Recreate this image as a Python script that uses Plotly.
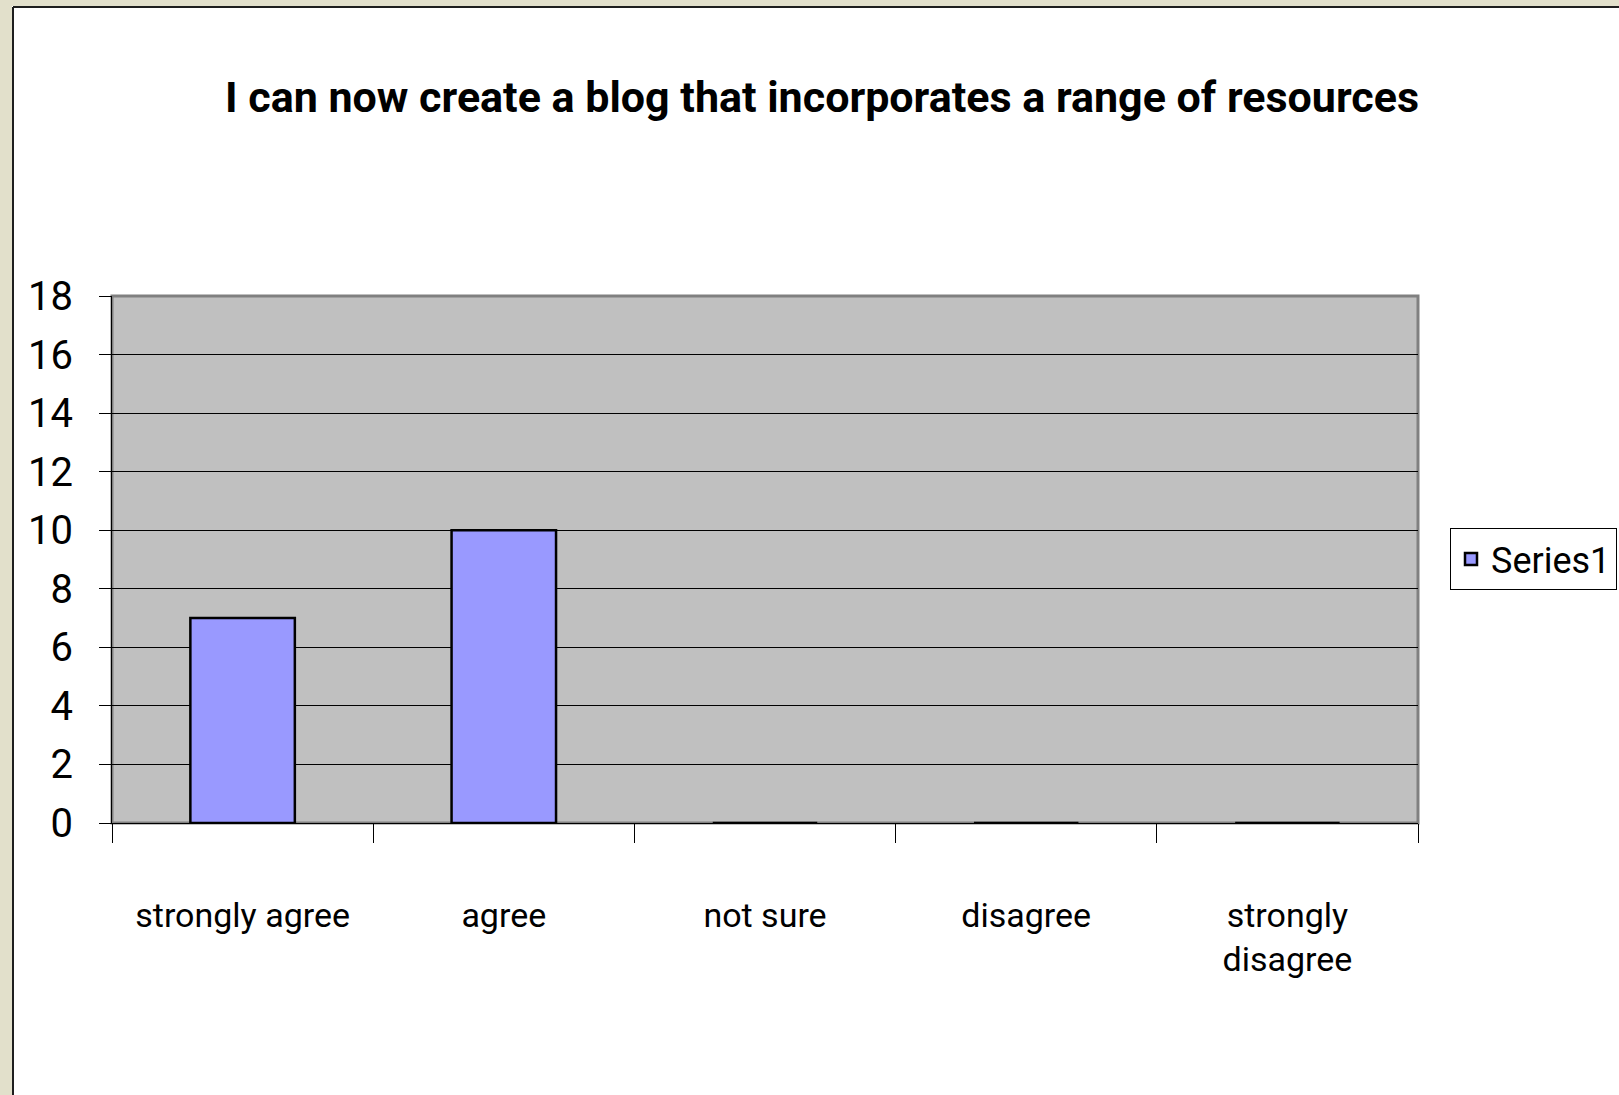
import plotly.graph_objects as go

categories = ["strongly agree", "agree", "not sure", "disagree", "strongly<br>disagree"]
values = [7, 10, 0, 0, 0]
series_name = "Series1"
title_text = "I can now create a blog that incorporates a range of resources"
y_ticks = [0, 2, 4, 6, 8, 10, 12, 14, 16, 18]

W, H = 1619, 1095
L, R, T, B = 112, 1418, 296, 823

def px_x(p):
    return (p - L) / (R - L)

def px_y(p):
    return (B - p) / (B - T)

FONT = "Liberation Sans Narrow, Roboto, Liberation Sans, sans-serif"

fig = go.Figure()
fig.add_trace(go.Bar(
    x=categories, y=values, name=series_name,
    marker=dict(color="#9999FF", line=dict(color="black", width=2.5)),
    showlegend=True,
))

shapes = [
    dict(type="rect", xref="paper", yref="paper", x0=px_x(0), x1=px_x(12), y0=px_y(H), y1=px_y(0),
         fillcolor="#E2E0CB", line=dict(width=0), layer="above"),
    dict(type="rect", xref="paper", yref="paper", x0=px_x(0), x1=px_x(W), y0=px_y(6), y1=px_y(0),
         fillcolor="#E2E0CB", line=dict(width=0), layer="above"),
    dict(type="line", xref="paper", yref="paper", x0=px_x(13), x1=px_x(13), y0=px_y(H), y1=px_y(7),
         line=dict(color="#1E1E1E", width=2), layer="above"),
    dict(type="line", xref="paper", yref="paper", x0=px_x(13), x1=px_x(W), y0=px_y(7), y1=px_y(7),
         line=dict(color="#1E1E1E", width=2), layer="above"),
    dict(type="rect", xref="paper", yref="paper", x0=0, x1=1, y0=0, y1=1,
         line=dict(color="#808080", width=3), layer="below"),
]

fig.update_layout(
    width=W, height=H,
    margin=dict(l=L, r=W - R, t=T, b=H - B, pad=0, autoexpand=False),
    paper_bgcolor="white",
    plot_bgcolor="#C0C0C0",
    bargap=0.6,
    title=dict(text="<b>" + title_text + "</b>", x=822 / W, xanchor="center",
               y=1 - 97 / H, yanchor="middle", xref="container", yref="container",
               font=dict(family=FONT, size=43, color="black")),
    font=dict(family=FONT, color="black"),
    legend=dict(x=px_x(1450), xanchor="left", y=px_y(559), yanchor="middle",
                bgcolor="white", bordercolor="black", borderwidth=1,
                itemwidth=30, tracegroupgap=0,
                font=dict(family=FONT, size=36, color="black")),
    shapes=shapes,
)

fig.update_xaxes(
    type="category", tickson="boundaries", ticks="outside", ticklen=19,
    tickcolor="black", tickwidth=1, showgrid=False, tickangle=0,
    showline=True, linecolor="black", linewidth=1,
    tickfont=dict(family=FONT, size=34, color="black"),
    ticklabelstandoff=62, range=[-0.5, 4.5],
)
fig.update_yaxes(
    range=[0, 18], tickvals=y_ticks, ticks="outside", ticklen=12,
    tickcolor="black", tickwidth=1, showgrid=True, gridcolor="black", gridwidth=1,
    showline=True, linecolor="black", linewidth=1, zeroline=False,
    tickfont=dict(family=FONT, size=40, color="black"),
    ticklabelstandoff=18,
)

fig.write_html("out.html", config={"displayModeBar": False},
               post_script="document.body.style.margin='0';")
